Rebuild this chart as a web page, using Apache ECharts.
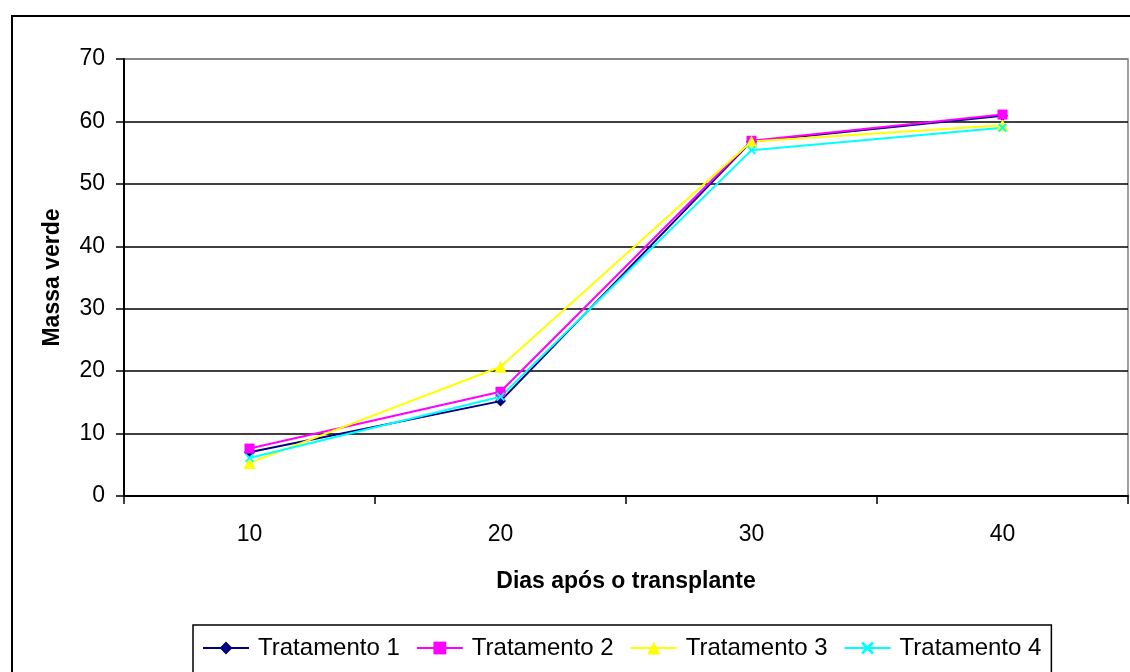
<!DOCTYPE html>
<html>
<head>
<meta charset="utf-8">
<script src="https://cdn.jsdelivr.net/npm/echarts@6/dist/echarts.min.js"></script>
<style>html,body{margin:0;padding:0;background:#fff}#c{width:1130px;height:672px}</style>
</head>
<body>
<div id="c"></div>
<script>
const categories = ['10', '20', '30', '40'];
const seriesNames = ['Tratamento 1', 'Tratamento 2', 'Tratamento 3', 'Tratamento 4'];
const t1 = [7.0, 15.2, 56.8, 60.9];
const t2 = [7.6, 16.7, 56.9, 61.1];
const t3 = [5.3, 20.7, 56.8, 59.4];
const t4 = [6.1, 15.9, 55.4, 59.0];
const yTicks = [0, 10, 20, 30, 40, 50, 60, 70];

const font = '"Liberation Sans", Arial, sans-serif';
const colors = ['#000080', '#FF00FF', '#FFFF00', '#00FFFF'];
const symbols = ['diamond', 'rect', 'triangle',
  'path://M0,1.5L1.5,0L5,3.5L8.5,0L10,1.5L6.5,5L10,8.5L8.5,10L5,6.5L1.5,10L0,8.5L3.5,5Z'];
const sizes = [11, 10, 12, 9];
const data = [t1, t2, t3, t4];

const chart = echarts.init(document.getElementById('c'), null, {renderer: 'canvas'});
chart.setOption({
  animation: false,
  backgroundColor: '#fff',
  graphic: [{
    type: 'rect', shape: {x: 12, y: 16, width: 1300, height: 800},
    style: {fill: 'none', stroke: '#000', lineWidth: 2}, z: -1
  }],
  grid: {left: 124, top: 59, right: 2, bottom: 176, show: true,
    borderColor: '#808080', borderWidth: 1.5, backgroundColor: 'transparent'},
  legend: {
    data: seriesNames, left: 193, top: 625, orient: 'horizontal',
    itemWidth: 46, itemHeight: 16, itemGap: 16,
    padding: [11, 10, 30, 9],
    borderColor: '#000', borderWidth: 1.5, backgroundColor: '#fff',
    textStyle: {fontFamily: font, fontSize: 24, color: '#000', padding: [0, 0, 0, 4]}
  },
  xAxis: {
    type: 'category', data: categories, boundaryGap: true,
    name: 'Dias após o transplante', nameLocation: 'middle', nameGap: 74,
    nameTextStyle: {fontFamily: font, fontSize: 23, fontWeight: 'bold', color: '#000'},
    axisLine: {lineStyle: {color: '#000', width: 2}},
    axisTick: {show: true, length: 8, alignWithLabel: false, lineStyle: {color: '#000', width: 1.5}},
    axisLabel: {fontFamily: font, fontSize: 23, color: '#000', margin: 27},
    splitLine: {show: false}
  },
  yAxis: {
    type: 'value', min: 0, max: 70, interval: 10,
    name: 'Massa verde', nameLocation: 'middle', nameGap: 60, nameRotate: 90,
    nameTextStyle: {fontFamily: font, fontSize: 23, fontWeight: 'bold', color: '#000'},
    axisLine: {show: true, lineStyle: {color: '#000', width: 2}},
    axisTick: {show: true, length: 8, lineStyle: {color: '#000', width: 1.5}},
    axisLabel: {fontFamily: font, fontSize: 23, color: '#000', margin: 19},
    splitLine: {show: true, lineStyle: {color: ['#000','#000','#000','#000','#000','#000','#000','#808080'], width: 1.5}}
  },
  series: seriesNames.map((n, i) => ({
    name: n, type: 'line', data: data[i],
    symbol: symbols[i], symbolSize: sizes[i], showAllSymbol: true,
    itemStyle: {color: colors[i], borderWidth: 0},
    lineStyle: {color: colors[i], width: 2}
  }))
});
</script>
</body>
</html>
